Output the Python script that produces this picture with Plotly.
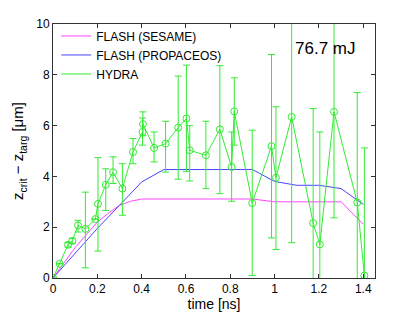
import plotly.graph_objects as go

# FLASH (SESAME)
sesame_t = [0, 0.05, 0.1, 0.15, 0.2, 0.25, 0.3, 0.35, 0.4, 0.5, 0.6, 0.7, 0.8, 0.9, 1.0, 1.1, 1.2, 1.3, 1.4]
sesame_z = [0, 0.6, 1.2, 1.7, 2.2, 2.55, 2.86, 3.02, 3.11, 3.11, 3.11, 3.11, 3.11, 3.11, 3.0, 3.0, 3.0, 3.0, 2.12]

# FLASH (PROPACEOS)
prop_t = [0, 0.1, 0.2, 0.3, 0.4, 0.5, 0.6, 0.7, 0.8, 0.9, 1.0, 1.1, 1.2, 1.3, 1.4]
prop_z = [0, 0.97, 1.95, 2.86, 3.78, 4.27, 4.27, 4.27, 4.27, 4.27, 3.8, 3.65, 3.65, 3.52, 2.9]

# HYDRA with error bars (lower / upper bounds)
hydra_t = [0.000, 0.030, 0.068, 0.087, 0.113, 0.146, 0.191, 0.203, 0.238, 0.271, 0.313,
           0.361, 0.404, 0.406, 0.456, 0.508, 0.565, 0.602, 0.617, 0.690, 0.753,
           0.806, 0.818, 0.899, 0.986, 1.006, 1.077, 1.174, 1.204, 1.268, 1.373, 1.405]
hydra_z = [0.00, 0.56, 1.31, 1.46, 2.07, 1.93, 2.32, 2.92, 3.67, 4.16, 3.52,
           4.96, 5.75, 6.06, 5.12, 5.29, 5.92, 6.28, 5.03, 4.83, 5.85,
           4.37, 6.56, 2.95, 5.19, 3.95, 6.34, 2.16, 1.32, 6.54, 2.97, 0.10]
hydra_lo = [0.00, 0.56, 1.22, 1.36, 1.81, 0.40, 2.32, 1.06, 2.66, 3.72, 2.47,
            4.50, 5.23, 5.60, 4.57, 4.17, 3.89, 4.20, 3.82, 3.52, 3.32,
            3.02, 5.23, 0.10, 1.58, 1.12, 1.39, -1.0, -1.0, 2.37, -1.0, -1.0]
hydra_hi = [0.00, 0.56, 1.40, 1.56, 2.27, 3.38, 2.32, 4.74, 4.30, 4.77, 4.50,
            5.49, 6.30, 6.54, 5.75, 6.17, 7.95, 8.38, 6.00, 6.17, 8.36,
            5.75, 7.88, 5.82, 8.80, 6.74, 12.0, 6.67, 5.75, 12.0, 7.30, 5.12]

x_ticks = [0, 0.2, 0.4, 0.6, 0.8, 1.0, 1.2, 1.4]
x_ticklabels = ["0", "0.2", "0.4", "0.6", "0.8", "1", "1.2", "1.4"]
y_ticks = [0, 2, 4, 6, 8, 10]

GREEN = "rgb(50,235,50)"
MAGENTA = "rgb(255,70,255)"
BLUE = "rgb(70,70,255)"

err_plus = [h - z for h, z in zip(hydra_hi, hydra_z)]
err_minus = [z - l for z, l in zip(hydra_z, hydra_lo)]

fig = go.Figure()
fig.add_trace(go.Scatter(x=sesame_t, y=sesame_z, mode="lines", name="FLASH (SESAME)",
                         line=dict(color=MAGENTA, width=1)))
fig.add_trace(go.Scatter(x=prop_t, y=prop_z, mode="lines", name="FLASH (PROPACEOS)",
                         line=dict(color=BLUE, width=1)))
fig.add_trace(go.Scatter(x=hydra_t, y=hydra_z, mode="lines", name="HYDRA",
                         line=dict(color=GREEN, width=1)))
fig.add_trace(go.Scatter(x=hydra_t, y=hydra_z, mode="markers", name="HYDRA", showlegend=False,
                         marker=dict(symbol="circle-open", size=7, color=GREEN,
                                     line=dict(width=1, color=GREEN)),
                         error_y=dict(type="data", array=err_plus, arrayminus=err_minus,
                                      color=GREEN, thickness=1, width=3.5, symmetric=False)))

fig.add_annotation(x=0.945, y=0.905, xref="paper", yref="paper", text="76.7 mJ",
                   showarrow=False, xanchor="right", yanchor="middle",
                   font=dict(size=17, color="black", family="Liberation Sans, Arial"))

axis_common = dict(showgrid=False, zeroline=False, showline=True, linecolor="#333",
                   linewidth=1, mirror="ticks", ticks="inside", ticklen=4,
                   tickcolor="#333", tickfont=dict(size=12, color="black"),
                   automargin=False)

fig.update_layout(
    width=415, height=313,
    margin=dict(l=45, r=48, t=16, b=43),
    paper_bgcolor="white", plot_bgcolor="white",
    font=dict(family="Liberation Sans, Arial", size=12, color="black"),
    showlegend=True,
    legend=dict(x=0.01, y=1.01, xanchor="left", yanchor="top",
                bgcolor="rgba(255,255,255,0)", borderwidth=0,
                font=dict(size=12), tracegroupgap=0, itemwidth=30),
    xaxis=dict(range=[0, 1.453], tickvals=x_ticks, ticktext=x_ticklabels,
               title=dict(text="time [ns]", font=dict(size=14), standoff=2),
               **axis_common),
    yaxis=dict(range=[0, 10], tickvals=y_ticks,
               title=dict(text="z<sub>crit</sub> − z<sub>targ</sub> [μm]",
                          font=dict(size=15), standoff=8),
               **axis_common),
)

fig.write_html("out.html")
